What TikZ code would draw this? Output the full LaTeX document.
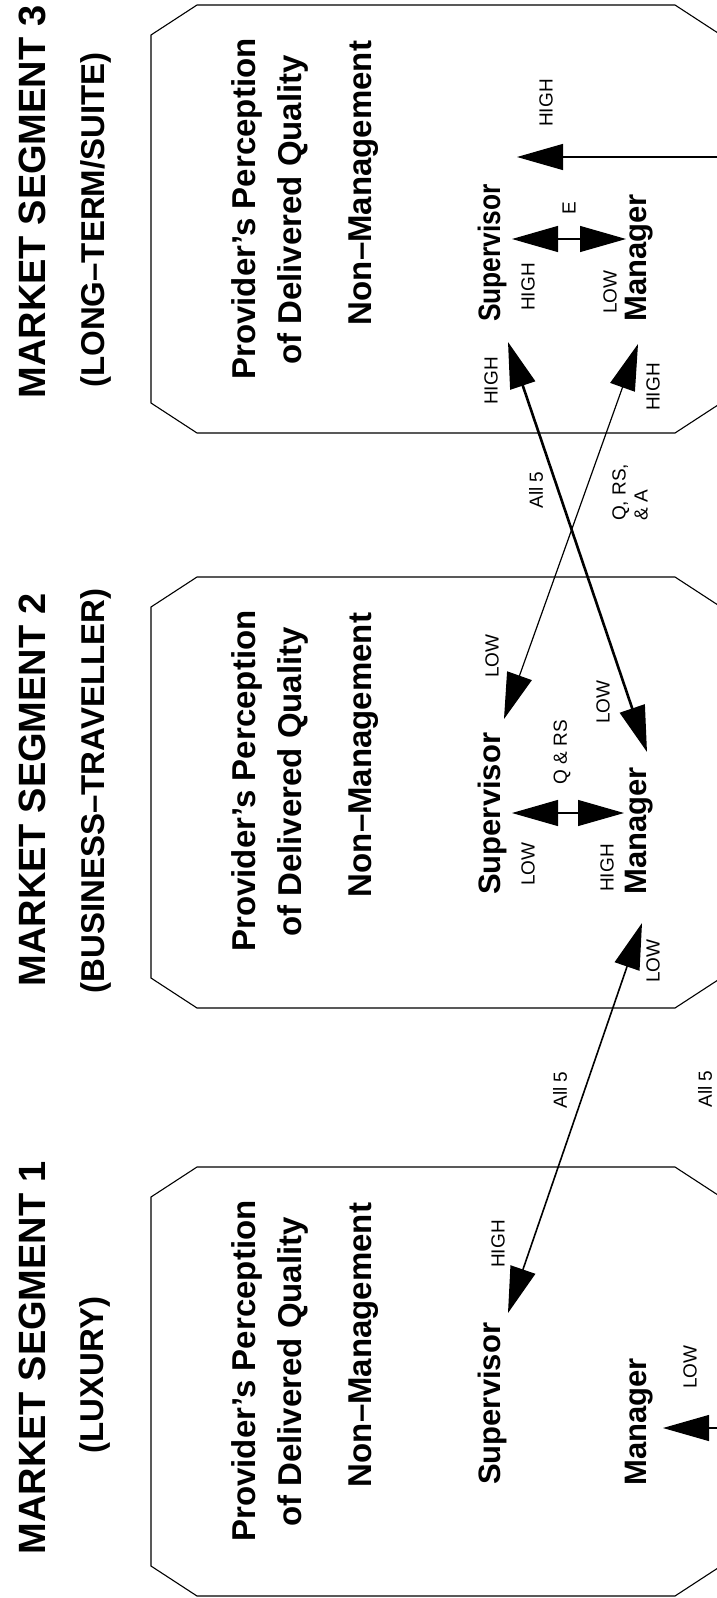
\documentclass[tikz,border=0pt]{standalone}
\usepackage{fontspec}
\usepackage{graphicx}
\setmainfont{Liberation Sans}
\usetikzlibrary{arrows.meta}
\begin{document}
\begin{tikzpicture}[x=1pt,y=-1pt,
  segbox/.style={draw,line width=1.1pt},
  ttl/.style={rotate=90,font=\fontsize{38}{40}\selectfont\bfseries,inner sep=0pt},
  subttl/.style={rotate=90,font=\fontsize{33}{36}\selectfont\bfseries,inner sep=0pt},
  bodytxt/.style={rotate=90,font=\fontsize{33}{36}\selectfont\bfseries,inner sep=0pt},
  role/.style={rotate=90,font=\fontsize{31}{34}\selectfont\bfseries,inner sep=0pt,anchor=west},
  lbl/.style={rotate=90,font=\fontsize{19}{22}\selectfont,inner sep=0pt},
  link/.style={line width=1.2pt},
  onehead/.style={-{Triangle[length=46pt,width=26pt]}},
  twohead/.style={{Triangle[length=46pt,width=26pt]}-{Triangle[length=46pt,width=26pt]}},
]
\useasboundingbox (0,0) rectangle (717,1598);
\fill[white] (0,0) rectangle (717,1598);
\clip (0,0) rectangle (717,1598);

% boxes
\foreach \t/\b in {5/433, 577/1008, 1167/1596}{
  \draw[segbox] (151,\t+30) -- (197,\t) -- (675,\t) -- (721,\t+30)
    -- (721,\b-30) -- (675,\b) -- (197,\b) -- (151,\b-30) -- cycle;
}

% titles
\node[ttl] (t3) at (32,202) {MARKET SEGMENT 3};
\node[subttl] (s3) at (96,220) {(LONG–TERM/SUITE)};
\node[ttl] (t2) at (32,790) {MARKET SEGMENT 2};
\node[subttl] (s2) at (96,791) {(BUSINESS–TRAVELLER)};
\node[ttl] (t1) at (32,1358) {MARKET SEGMENT 1};
\node[subttl] (s1) at (95,1375) {(LUXURY)};

% box texts
\foreach \ty/\k in {5/3, 577/2, 1167/1}{
  \node[bodytxt] (prov\k) at (247,\ty+204) {Provider’s Perception};
  \node[bodytxt] (deliv\k) at (293,\ty+205) {of Delivered Quality};
  \node[bodytxt] (nonm\k) at (364,\ty+178) {Non–Management};
}
\node[role] (sup3) at (492,322) {\scalebox{0.85}[1]{Supervisor}};
\node[role] (mgr3) at (639,322) {Manager};
\node[role] (sup2) at (492,895) {Supervisor};
\node[role] (mgr2) at (639,895) {Manager};
\node[role] (sup1) at (492,1485) {Supervisor};
\node[role] (mgr1) at (639,1486) {Manager};

% arrow end points
\coordinate (s3r) at (517,157);
\coordinate (s3src) at (735,157);
\coordinate (s3a) at (512,239);
\coordinate (m3a) at (626,239);
\coordinate (s3b) at (508,342);
\coordinate (m3b) at (638,344);
\coordinate (s2a) at (512,813);
\coordinate (m2a) at (624,813);
\coordinate (s2b) at (504,719);
\coordinate (m2b) at (647,752);
\coordinate (m2c) at (642,923);
\coordinate (s1b) at (508,1313);
\coordinate (m1r) at (663,1428);
\coordinate (m1src) at (735,1428);

% connectors
\draw[link,onehead] (s3src) -- (s3r);
\draw[link,twohead] (s3a) -- (m3a);
\draw[link,twohead] (s2a) -- (m2a);
\draw[line width=2.6pt,twohead] (m2b) -- (s3b);
\draw[link,twohead] (s2b) -- (m3b);
\draw[line width=1.6pt,twohead] (s1b) -- (m2c);
\draw[link,onehead] (m1src) -- (m1r);

% small labels
\node[lbl] (l1) at (546,103) {HIGH};
\node[lbl] (l2) at (569,208) {E};
\node[lbl] (l3) at (528,287) {HIGH};
\node[lbl] (l4) at (610,292) {LOW};
\node[lbl] (l5) at (491,381) {HIGH};
\node[lbl] (l6) at (653,387) {HIGH};
\node[lbl] (l7) at (536,490) {All 5};
\node[lbl,anchor=west,align=left] (l8) at (630,521) {Q, RS,\\\& A};
\node[lbl] (l9) at (492,656) {LOW};
\node[lbl] (l10) at (603,702) {LOW};
\node[lbl] (l11) at (562,752) {Q \& RS};
\node[lbl] (l12) at (528,864) {LOW};
\node[lbl] (l13) at (607,868) {HIGH};
\node[lbl] (l14) at (653,961) {LOW};
\node[lbl] (l15) at (560,1090) {All 5};
\node[lbl] (l16) at (705,1089) {All 5};
\node[lbl] (l17) at (498,1244) {HIGH};
\node[lbl] (l18) at (690,1367) {LOW};
\end{tikzpicture}
\end{document}
